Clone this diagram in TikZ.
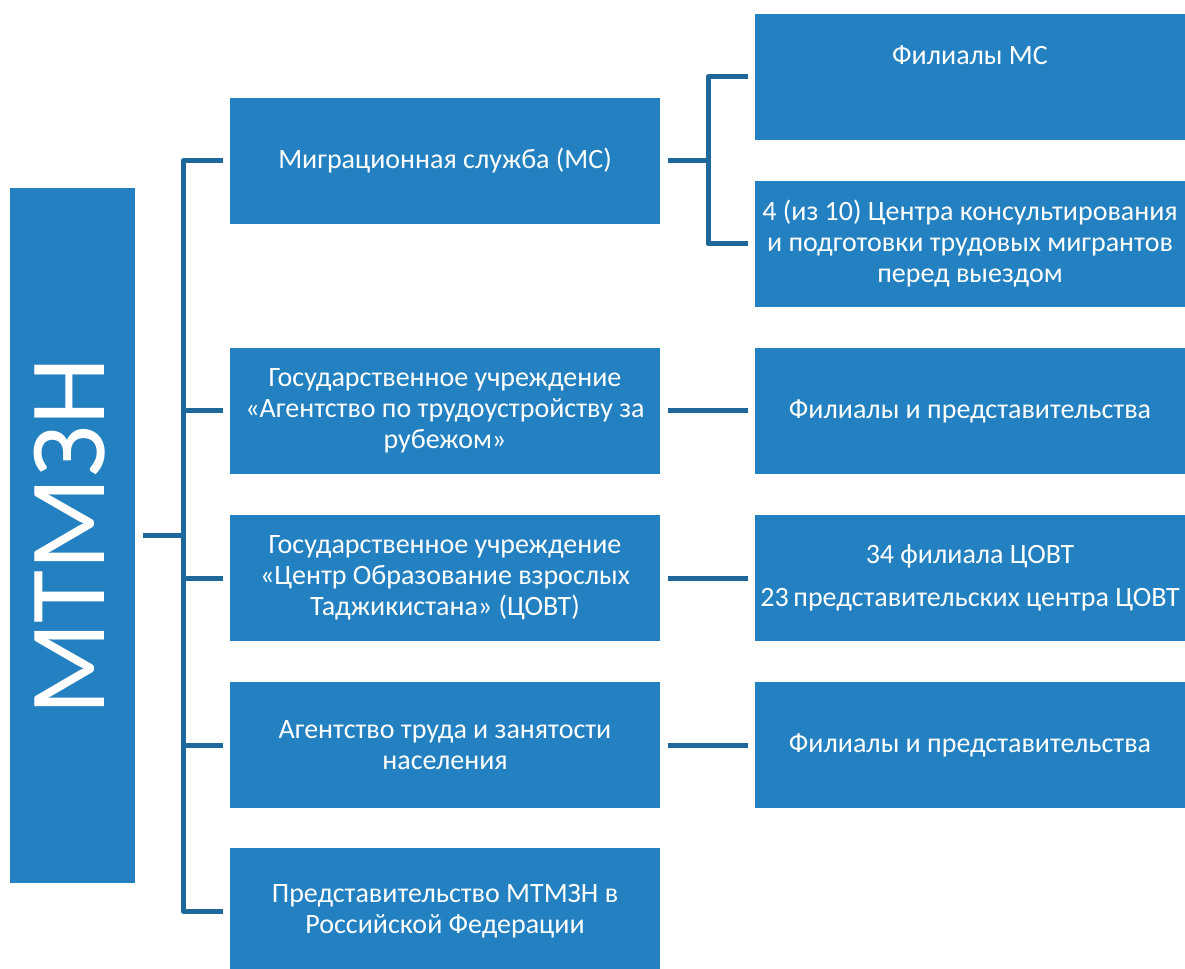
\documentclass[tikz,border=0pt]{standalone}
\usepackage{fontspec}
\setmainfont{Carlito}
\definecolor{bxfill}{RGB}{36,129,193}
\definecolor{lnblue}{RGB}{30,104,156}

\begin{document}
\begin{tikzpicture}[
        x=0.75pt,y=-0.75pt,
        bxmain/.style={fill=bxfill,draw=none,inner sep=0pt,text=white,align=center,
          font=\fontsize{21pt}{23.25pt}\selectfont,minimum width=322.5pt,minimum height=94.5pt},
        bxroot/.style={fill=bxfill,draw=none,inner sep=0pt,text=white,
          minimum width=93.75pt,minimum height=521.25pt},
        lnlink/.style={draw=lnblue,line width=3.75pt,line join=round}
      ]

      \useasboundingbox (0,0) rectangle (1185,969);

      \node[bxroot] (mtmzn) at (72.5,535.5) {};
      \node[rotate=90,text=white,font=\fontsize{81.5pt}{90pt}\selectfont] (mtmzntxt) at (70,537) {МТМЗН};

      \node[bxmain] (ms) at (445,161) {Миграционная служба (МС)};
      \node[bxmain] (agent) at (445,411) {Государственное учреждение\\«Агентство по трудоустройству за\\рубежом»};
      \node[bxmain] (tsovt) at (445,578) {Государственное учреждение\\«Центр Образование взрослых\\Таджикистана» (ЦОВТ)};
      \node[bxmain] (trud) at (445,745) {Агентство труда и занятости\\населения};
      \node[bxmain] (pred) at (445,911) {Представительство МТМЗН в\\Российской Федерации};

      \node[bxmain] (films) at (970,77) {Филиалы МС\\[10pt]\mbox{}};
      \node[bxmain] (centr) at (970,244) {4 (из 10) Центра консультирования\\и подготовки трудовых мигрантов\\перед выездом};
      \node[bxmain] (filagent) at (970,411) {Филиалы и представительства};
      \node[bxmain] (filtsovt) at (970,578) {34 филиала ЦОВТ\\[9pt]23\,представительских центра ЦОВТ};
      \node[bxmain] (filtrud) at (970,745) {Филиалы и представительства};

      \coordinate (trunk) at (183,0);
      \coordinate (split) at (708,0);

      \draw[lnlink] ([xshift=6pt]mtmzn.east) -- (trunk |- mtmzn);
      \draw[lnlink] ([xshift=-5.25pt]ms.west) -| (trunk |- pred) -- ([xshift=-5.25pt]pred.west);
      \foreach \n in {agent,tsovt,trud}
        \draw[lnlink] (trunk |- \n) -- ([xshift=-5.25pt]\n.west);

      \draw[lnlink] ([xshift=6pt]ms.east) -- (split |- ms);
      \draw[lnlink] ([xshift=-5.25pt]films.west) -| (split |- centr) -- ([xshift=-5.25pt]centr.west);
      \draw[lnlink] ([xshift=6pt]agent.east) -- ([xshift=-5.25pt]filagent.west);
      \draw[lnlink] ([xshift=6pt]tsovt.east) -- ([xshift=-5.25pt]filtsovt.west);
      \draw[lnlink] ([xshift=6pt]trud.east) -- ([xshift=-5.25pt]filtrud.west);

    \end{tikzpicture}
\end{document}
